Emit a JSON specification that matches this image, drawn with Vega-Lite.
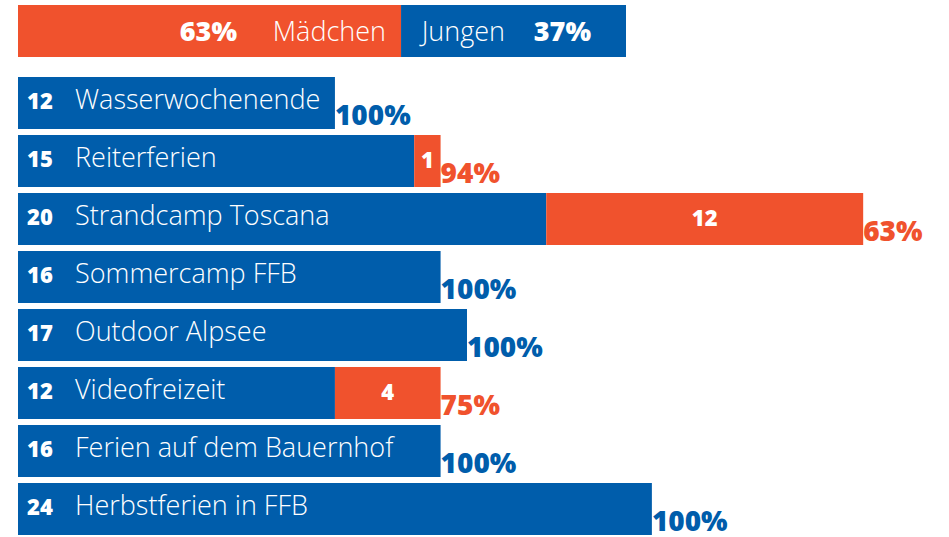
{
  "$schema": "https://vega.github.io/schema/vega-lite/v6.json",
  "padding": {"left": 18, "top": 5, "right": 0, "bottom": 0},
  "background": "white",
  "spacing": 17,
  "resolve": {"scale": {"x": "independent", "y": "independent", "color": "independent"}},
  "config": {"view": {"stroke": null}, "font": "Open Sans"},
  "vconcat": [
    {
      "width": 608,
      "height": 52,
      "data": {"values": [
        {"reihe": "Gesamt", "gruppe": "Mädchen", "anteil": 0.63},
        {"reihe": "Gesamt", "gruppe": "Jungen", "anteil": 0.37}
      ]},
      "encoding": {
        "x": {"field": "anteil", "type": "quantitative", "stack": "zero", "scale": {"domain": [0, 1], "nice": false}, "axis": null},
        "y": {"field": "reihe", "type": "nominal", "axis": null, "scale": {"paddingInner": 0, "paddingOuter": 0}},
        "order": {"field": "anteil", "sort": "descending"},
        "detail": {"field": "gruppe"}
      },
      "layer": [
        {
          "mark": {"type": "bar"},
          "encoding": {
            "color": {"field": "gruppe", "type": "nominal", "scale": {"domain": ["Mädchen", "Jungen"], "range": ["#F0522D", "#005DAB"]}, "legend": null}
          }
        },
        {
          "mark": {"type": "text", "align": "right", "baseline": "alphabetic", "dx": -15, "dy": 10, "fontSize": 27, "fontWeight": 300, "color": "white", "font": "Open Sans"},
          "encoding": {
            "text": {"condition": {"test": "datum.gruppe == 'Mädchen'", "field": "gruppe"}, "value": ""}
          }
        },
        {
          "mark": {"type": "text", "align": "right", "baseline": "alphabetic", "dx": -164, "dy": 10, "fontSize": 27, "fontWeight": 800, "color": "white", "font": "Open Sans"},
          "encoding": {
            "text": {"condition": {"test": "datum.gruppe == 'Mädchen'", "field": "anteil", "format": ".0%"}, "value": ""}
          }
        },
        {
          "mark": {"type": "text", "align": "right", "baseline": "alphabetic", "dx": -121, "dy": 10, "fontSize": 27, "fontWeight": 300, "color": "white", "font": "Open Sans"},
          "encoding": {
            "text": {"condition": {"test": "datum.gruppe == 'Jungen'", "field": "gruppe"}, "value": ""}
          }
        },
        {
          "mark": {"type": "text", "align": "right", "baseline": "alphabetic", "dx": -35, "dy": 10, "fontSize": 27, "fontWeight": 800, "color": "white", "font": "Open Sans"},
          "encoding": {
            "text": {"condition": {"test": "datum.gruppe == 'Jungen'", "field": "anteil", "format": ".0%"}, "value": ""}
          }
        }
      ]
    },
    {
      "width": 898,
      "height": 464,
      "data": {"values": [
        {"event": "Wasserwochenende", "jungen": 12, "maedchen": 0, "anteil": 1.0},
        {"event": "Reiterferien", "jungen": 15, "maedchen": 1, "anteil": 0.94},
        {"event": "Strandcamp Toscana", "jungen": 20, "maedchen": 12, "anteil": 0.63},
        {"event": "Sommercamp FFB", "jungen": 16, "maedchen": 0, "anteil": 1.0},
        {"event": "Outdoor Alpsee", "jungen": 17, "maedchen": 0, "anteil": 1.0},
        {"event": "Videofreizeit", "jungen": 12, "maedchen": 4, "anteil": 0.75},
        {"event": "Ferien auf dem Bauernhof", "jungen": 16, "maedchen": 0, "anteil": 1.0},
        {"event": "Herbstferien in FFB", "jungen": 24, "maedchen": 0, "anteil": 1.0}
      ]},
      "transform": [
        {"fold": ["jungen", "maedchen"], "as": ["gruppe", "anzahl"]},
        {"stack": "anzahl", "groupby": ["event"], "sort": [{"field": "gruppe", "order": "ascending"}], "as": ["x0", "x1"]}
      ],
      "encoding": {
        "y": {"field": "event", "type": "nominal", "sort": null, "axis": null, "scale": {"paddingInner": 0.1, "paddingOuter": 0.05}}
      },
      "layer": [
        {
          "mark": {"type": "bar"},
          "encoding": {
            "x": {"field": "x0", "type": "quantitative", "scale": {"domain": [0, 34], "nice": false}, "axis": null},
            "x2": {"field": "x1"},
            "color": {"field": "gruppe", "type": "nominal", "scale": {"domain": ["jungen", "maedchen"], "range": ["#005DAB", "#F0522D"]}, "legend": null}
          }
        },
        {
          "transform": [{"filter": "datum.gruppe == 'jungen'"}],
          "mark": {"type": "text", "align": "left", "baseline": "alphabetic", "dx": 9, "dy": 5.5, "fontSize": 22, "fontWeight": 800, "color": "white", "font": "Open Sans"},
          "encoding": {
            "x": {"field": "x0", "type": "quantitative"},
            "text": {"field": "anzahl"}
          }
        },
        {
          "transform": [{"filter": "datum.gruppe == 'jungen'"}],
          "mark": {"type": "text", "align": "left", "baseline": "alphabetic", "dx": 57, "dy": 6, "fontSize": 27, "fontWeight": 300, "color": "white", "font": "Open Sans"},
          "encoding": {
            "x": {"field": "x0", "type": "quantitative"},
            "text": {"field": "event"}
          }
        },
        {
          "transform": [
            {"filter": "datum.gruppe == 'maedchen' && datum.anzahl > 0"},
            {"calculate": "(datum.x0 + datum.x1) / 2", "as": "mitte"}
          ],
          "mark": {"type": "text", "align": "center", "baseline": "alphabetic", "dy": 7, "fontSize": 22, "fontWeight": 800, "color": "white", "font": "Open Sans"},
          "encoding": {
            "x": {"field": "mitte", "type": "quantitative"},
            "text": {"field": "anzahl"}
          }
        },
        {
          "transform": [{"filter": "datum.gruppe == 'maedchen'"}],
          "mark": {"type": "text", "align": "left", "baseline": "alphabetic", "dx": 0, "dy": 21.5, "fontSize": 28, "fontWeight": 800, "font": "Open Sans"},
          "encoding": {
            "x": {"field": "x1", "type": "quantitative"},
            "text": {"field": "anteil", "format": ".0%"},
            "color": {"condition": {"test": "datum.anzahl > 0", "value": "#F0522D"}, "value": "#005DAB"}
          }
        }
      ]
    }
  ]
}
